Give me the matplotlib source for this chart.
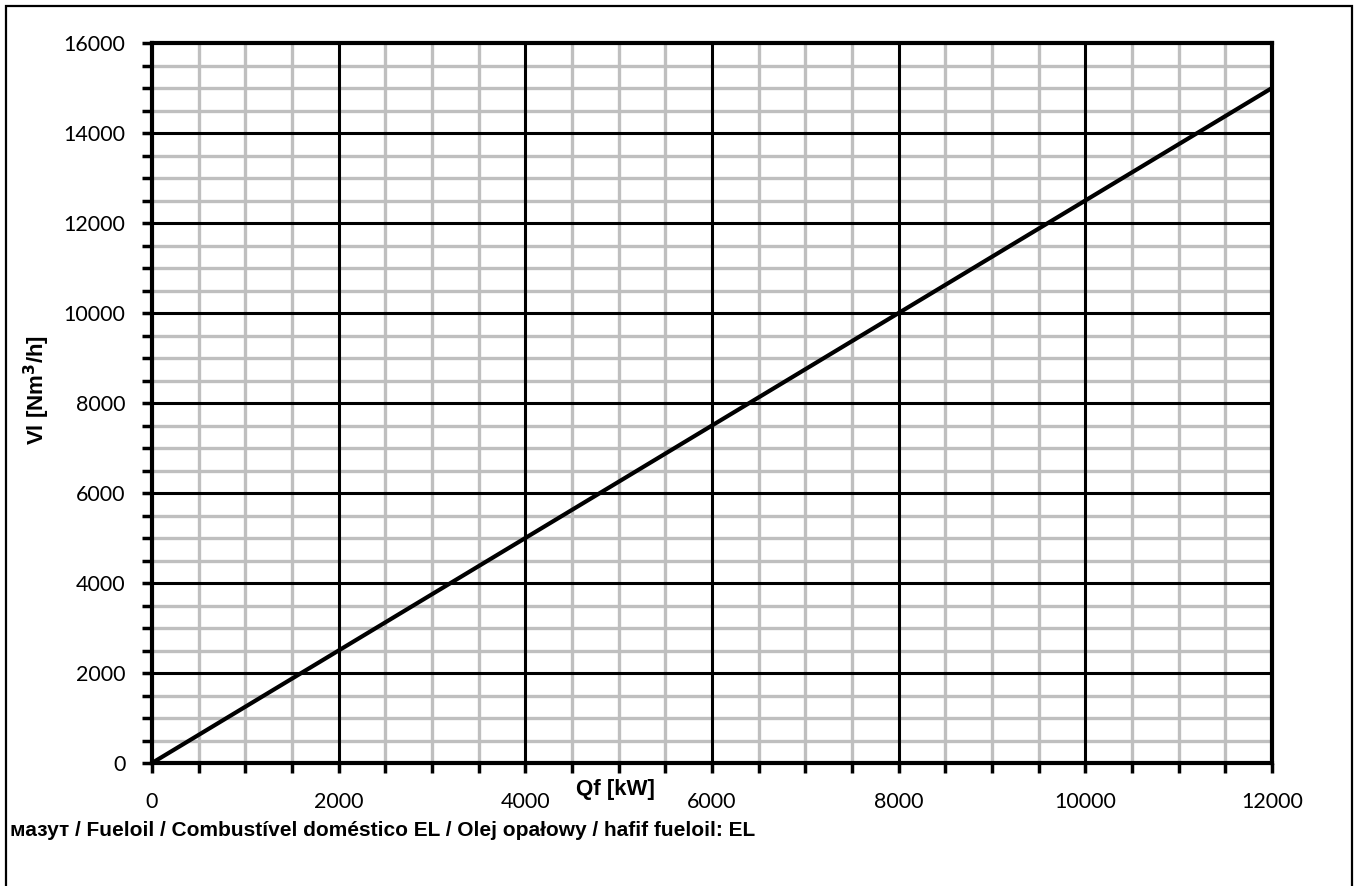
import matplotlib
matplotlib.use("Agg")
import matplotlib.pyplot as plt
from matplotlib.patches import Rectangle
from matplotlib.ticker import MultipleLocator

# Qf [kW] -> Vl [Nm3/h]
qf = [0, 12000]
vl = [0, 15000]

x_ticks = [0, 2000, 4000, 6000, 8000, 10000, 12000]
y_ticks = [0, 2000, 4000, 6000, 8000, 10000, 12000, 14000, 16000]

W, H = 1355, 886
fig = plt.figure(figsize=(W / 100, H / 100), dpi=100)
ax = fig.add_axes([152 / W, 1 - 763 / H, 1120 / W, 720 / H])

ax.set_xlim(0, 12000)
ax.set_ylim(0, 16000)
ax.set_xticks(x_ticks)
ax.set_yticks(y_ticks)
ax.xaxis.set_minor_locator(MultipleLocator(500))
ax.yaxis.set_minor_locator(MultipleLocator(500))

# grey minor grid underneath, black major grid on top of it
ax.grid(which="minor", color="#bfbfbf", linewidth=2.4, zorder=0)
ax.set_axisbelow(True)
for v in x_ticks[1:-1]:
    ax.axvline(v, color="black", linewidth=2.2, zorder=1.5)
for v in y_ticks[1:-1]:
    ax.axhline(v, color="black", linewidth=2.2, zorder=1.5)

ax.plot(qf, vl, color="black", linewidth=3, zorder=3, solid_capstyle="butt")

for s in ax.spines.values():
    s.set_linewidth(3)
    s.set_zorder(4)
ax.tick_params(which="both", direction="out", length=7, width=2.5, color="black")
ax.tick_params(which="major", labelsize=15.5)
ax.tick_params(axis="y", pad=12)
ax.tick_params(axis="x", pad=14)
for lab in ax.get_xticklabels() + ax.get_yticklabels():
    lab.set_family(["Lato", "DejaVu Sans"])

fig.text(615 / W, 1 - 790 / H, "Qf [kW]", ha="center", va="center",
         fontsize=16, fontweight="bold", family="Liberation Sans")
fig.text(37 / W, 1 - 390 / H, "Vl [Nm$^\\mathbf{3}$/h]", ha="center", va="center",
         rotation=90, fontsize=16, fontweight="bold", family="Liberation Sans")
fig.text(10 / W, 1 - 830 / H,
         "мазут / Fueloil / Combustível doméstico EL / Olej opałowy / hafif fueloil: EL",
         ha="left", va="center", fontsize=15, fontweight="bold", family="Liberation Sans")

# frame around the whole picture (bottom edge runs past the image)
fig.patches.append(Rectangle((6 / W, -0.01), 1346 / W, 1 - 6 / H + 0.01,
                             transform=fig.transFigure, fill=False,
                             edgecolor="black", linewidth=1.6))

fig.savefig("out.png", dpi=100)
